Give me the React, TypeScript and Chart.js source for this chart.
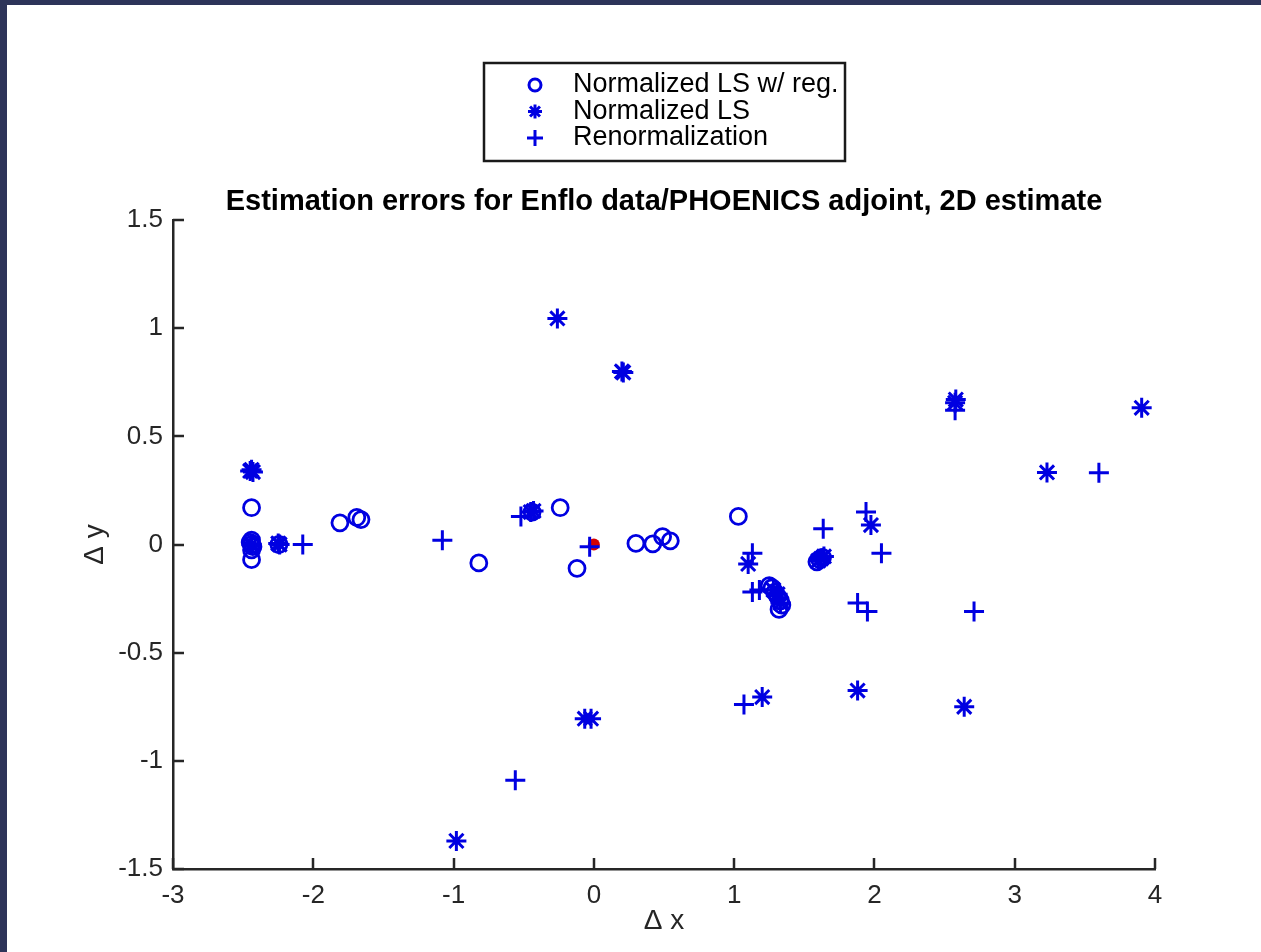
import React, { useEffect, useRef } from 'react';
import { Chart, registerables } from 'chart.js';

Chart.register(...registerables);

// ---- data ----
const regLsX = [-2.44, -2.44, -2.44, -2.43, -2.44, -2.45, -2.44, -2.245, -1.81, -1.69, -1.66, -0.82, -0.44, -0.24, -0.12, 0.30, 0.42, 0.49, 0.545, 1.03, 1.59, 1.61, 1.63, 1.27, 1.29, 1.31, 1.33, 1.34, 1.25, 1.32];
const regLsY = [0.17, 0.02, 0.0, -0.01, -0.025, 0.01, -0.07, 0.0, 0.10, 0.125, 0.115, -0.085, 0.15, 0.17, -0.11, 0.005, 0.003, 0.036, 0.017, 0.13, -0.08, -0.07, -0.06, -0.2, -0.22, -0.24, -0.26, -0.28, -0.19, -0.3];

const lsX = [-2.44, -2.45, -2.43, -2.44, -2.24, -2.25, -0.45, -0.43, -0.26, 0.20, 0.21, -0.065, -0.02, -0.98, 1.10, 1.20, 1.975, 1.88, 2.575, 2.58, 3.905, 3.23, 2.64, 1.60, 1.62, 1.64, 1.28, 1.31, 1.33];
const lsY = [0.345, 0.34, 0.335, 0.0, 0.0, 0.005, 0.15, 0.155, 1.045, 0.80, 0.795, -0.805, -0.805, -1.37, -0.09, -0.705, 0.09, -0.675, 0.655, 0.67, 0.632, 0.333, -0.75, -0.075, -0.065, -0.055, -0.21, -0.23, -0.27];

const renormX = [-2.075, -1.08, -0.52, -0.03, -0.56, 1.07, 1.13, 1.13, 1.18, 1.635, 1.94, 2.05, 1.88, 1.95, 2.71, 3.60, 2.575];
const renormY = [0.0, 0.02, 0.13, -0.01, -1.09, -0.74, -0.04, -0.22, -0.21, 0.073, 0.15, -0.04, -0.27, -0.31, -0.31, 0.332, 0.62];

const trueX = [0];
const trueY = [0];

const xTickValues = [-3, -2, -1, 0, 1, 2, 3, 4];
const yTickValues = [-1.5, -1, -0.5, 0, 0.5, 1, 1.5];

const seriesLabels = ['Normalized LS w/ reg.', 'Normalized LS', 'Renormalization'];
const titleText = 'Estimation errors for Enflo data/PHOENICS adjoint, 2D estimate';
const xLabel = '\u0394 x';
const yLabel = '\u0394 y';

// ---- styles ----
const NAVY = '#2d3459';
const BLUE = 'rgb(0,0,225)';
const RED = 'rgb(215,0,0)';
const AXIS = '#262626';
const FONT = "'Liberation Sans', Arial, Helvetica, sans-serif";

const toPoints = (xs: number[], ys: number[]) => xs.map((x, i) => ({ x, y: ys[i] }));

function drawMarker(ctx: CanvasRenderingContext2D, style: string, x: number, y: number, r: number) {
  ctx.beginPath();
  if (style === 'circle') {
    ctx.arc(x, y, r, 0, Math.PI * 2);
  } else if (style === 'star') {
    const d = r * Math.SQRT1_2;
    ctx.moveTo(x - r, y); ctx.lineTo(x + r, y);
    ctx.moveTo(x, y - r); ctx.lineTo(x, y + r);
    ctx.moveTo(x - d, y - d); ctx.lineTo(x + d, y + d);
    ctx.moveTo(x - d, y + d); ctx.lineTo(x + d, y - d);
  } else {
    ctx.moveTo(x - r, y); ctx.lineTo(x + r, y);
    ctx.moveTo(x, y - r); ctx.lineTo(x, y + r);
  }
  ctx.stroke();
}

const inwardTicks = {
  id: 'inwardTicks',
  afterDatasetsDraw(chart: any) {
    const { ctx, chartArea, scales } = chart;
    const len = 11;
    ctx.save();
    ctx.strokeStyle = AXIS;
    ctx.lineWidth = 2.5;
    ctx.beginPath();
    scales.x.ticks.forEach((t: any) => {
      const px = Math.round(scales.x.getPixelForValue(t.value));
      ctx.moveTo(px, chartArea.bottom);
      ctx.lineTo(px, chartArea.bottom - len);
    });
    scales.y.ticks.forEach((t: any) => {
      const py = Math.round(scales.y.getPixelForValue(t.value));
      ctx.moveTo(chartArea.left, py);
      ctx.lineTo(chartArea.left + len, py);
    });
    ctx.stroke();
    ctx.restore();
  },
};

const boxLegend = {
  id: 'boxLegend',
  afterDraw(chart: any, _args: any, opts: any) {
    const { ctx } = chart;
    const { left, top, width, height, rowY, markerX, textX, styles, radii, fontSize } = opts;
    ctx.save();
    ctx.fillStyle = '#ffffff';
    ctx.fillRect(left, top, width, height);
    ctx.strokeStyle = '#1a1a1a';
    ctx.lineWidth = 2.5;
    ctx.strokeRect(left, top, width, height);
    seriesLabels.forEach((label, i) => {
      ctx.strokeStyle = BLUE;
      ctx.lineWidth = 3;
      drawMarker(ctx, styles[i], markerX, rowY[i], radii[i]);
      ctx.fillStyle = '#000000';
      ctx.font = `${fontSize}px ${FONT}`;
      ctx.textBaseline = 'middle';
      ctx.textAlign = 'left';
      ctx.fillText(label, textX, rowY[i]);
    });
    ctx.restore();
  },
};

export default function App() {
  const canvasRef = useRef<HTMLCanvasElement | null>(null);

  useEffect(() => {
    if (!canvasRef.current) return;
    const chart = new Chart(canvasRef.current, {
      type: 'scatter',
      data: {
        datasets: [
          {
            label: seriesLabels[0],
            data: toPoints(regLsX, regLsY),
            pointStyle: 'circle',
            pointRadius: 8,
            pointBorderWidth: 2.8,
            borderColor: BLUE,
            backgroundColor: 'rgba(0,0,0,0)',
          },
          {
            label: seriesLabels[1],
            data: toPoints(lsX, lsY),
            pointStyle: 'star',
            pointRadius: 10,
            pointBorderWidth: 3,
            borderColor: BLUE,
            backgroundColor: BLUE,
          },
          {
            label: seriesLabels[2],
            data: toPoints(renormX, renormY),
            pointStyle: 'cross',
            pointRadius: 10,
            pointBorderWidth: 3,
            borderColor: BLUE,
            backgroundColor: BLUE,
          },
          {
            label: 'True source',
            data: toPoints(trueX, trueY),
            pointStyle: 'circle',
            pointRadius: 6,
            pointBorderWidth: 0,
            borderColor: RED,
            backgroundColor: RED,
          },
        ],
      },
      options: {
        responsive: false,
        animation: false,
        devicePixelRatio: 1,
        layout: { padding: { top: 0, left: 0, right: 106, bottom: 0 } },
        font: { family: FONT },
        plugins: {
          legend: { display: false },
          tooltip: { enabled: false },
          title: {
            display: true,
            text: titleText,
            fullSize: false,
            color: '#000000',
            font: { family: FONT, size: 29, weight: 'bold' },
            padding: { top: 180, bottom: 0.2 },
          },
          boxLegend: {
            left: 477,
            top: 58,
            width: 361,
            height: 98,
            rowY: [80, 106.5, 133],
            markerX: 528,
            textX: 566,
            styles: ['circle', 'star', 'cross'],
            radii: [6, 7, 8],
            fontSize: 27,
          },
        } as any,
        scales: {
          x: {
            type: 'linear',
            min: -3,
            max: 4,
            afterBuildTicks: (s: any) => { s.ticks = xTickValues.map((v) => ({ value: v })); },
            afterFit: (s: any) => { s.height = 83; },
            grid: { display: false, drawTicks: false },
            border: { display: true, color: AXIS, width: 2.5 },
            ticks: {
              color: AXIS,
              padding: 11,
              maxRotation: 0,
              font: { family: FONT, size: 26 },
              callback: (v: any) => String(v),
            },
            title: {
              display: true,
              text: xLabel,
              color: AXIS,
              font: { family: FONT, size: 28 },
              padding: { top: 0, bottom: 14 },
            },
          },
          y: {
            type: 'linear',
            min: -1.5,
            max: 1.5,
            afterBuildTicks: (s: any) => { s.ticks = yTickValues.map((v) => ({ value: v })); },
            afterFit: (s: any) => { s.width = 166; },
            grid: { display: false, drawTicks: false },
            border: { display: true, color: AXIS, width: 2.5 },
            ticks: {
              color: AXIS,
              padding: 10,
              font: { family: FONT, size: 26 },
              callback: (v: any) => String(v),
            },
            title: {
              display: true,
              text: yLabel,
              color: AXIS,
              font: { family: FONT, size: 28 },
              padding: { top: 71, bottom: 0 },
            },
          },
        },
      },
      plugins: [inwardTicks, boxLegend],
    });
    return () => chart.destroy();
  }, []);

  return (
    <div style={{ position: 'absolute', left: 0, top: 0, width: 1261, height: 952, background: NAVY, overflow: 'hidden' }}>
      <div style={{ position: 'absolute', left: 7, top: 5, width: 1254, height: 947, background: '#ffffff' }}>
        <canvas ref={canvasRef} width={1254} height={947} style={{ display: 'block' }} />
      </div>
    </div>
  );
}
